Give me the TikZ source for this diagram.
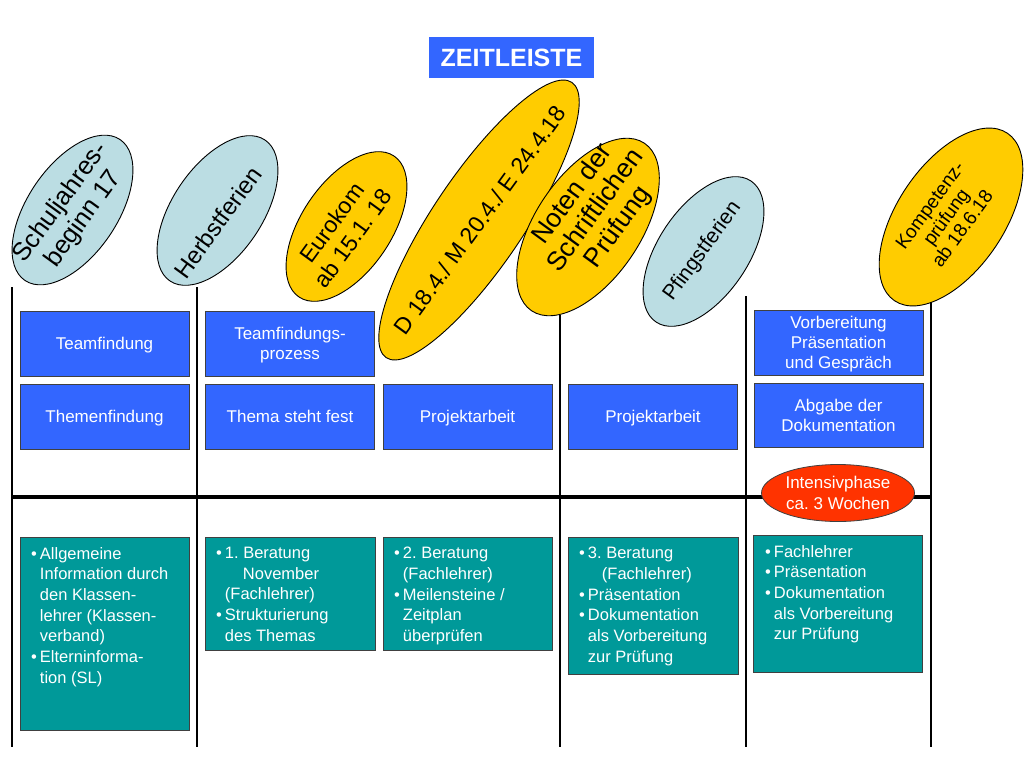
\documentclass[tikz,border=0pt]{standalone}
\usepackage{fontspec}
\setmainfont{Liberation Sans}
\usepackage{tikz}
\usetikzlibrary{shapes.geometric,positioning}
\definecolor{zblue}{HTML}{3366FF}
\definecolor{zteal}{HTML}{009999}
\definecolor{zgold}{HTML}{FFCC00}
\definecolor{zlight}{HTML}{BBDDE3}
\definecolor{zred}{HTML}{FF3300}
\newcommand{\bul}{\textbullet\hspace{3pt}}
\newcommand{\hng}{\hphantom{\textbullet\hspace{3pt}}}
\frenchspacing

\begin{document}
\begin{tikzpicture}
            [x=1pt,y=-1pt,
            every node/.style={inner sep=0pt,text=white},
            phase/.style={draw=black!75,line width=0.8pt,fill=zblue,align=center,text depth=0pt,
              minimum width=169pt,minimum height=65pt,font=\fontsize{17}{20}\selectfont},
            info/.style={draw=black!75,line width=0.8pt,fill=zteal,anchor=north west,minimum width=169pt},
            infotext/.style={align=left,font=\fontsize{16.5}{20.7}\selectfont},
            event/.style={ellipse,draw,line width=0.9pt,rotate=56},
            holiday/.style={event,fill=zlight,minimum width=170pt,minimum height=90pt},
            exam/.style={event,fill=zgold},
            eventtext/.style={rotate=54,align=center,text=black},
            bar/.style={line width=2pt}
            ]
            \fill[white] (0,0) rectangle (1024,768);
            \useasboundingbox (0,0) rectangle (1024,768);
            % time line
            \draw[bar] (12,287) -- (12,747);
            \draw[bar] (197,287) -- (197,747);
            \draw[bar] (560,315) -- (560,747);
            \draw[bar] (746,296) -- (746,747);
            \draw[bar] (931,300) -- (931,747);
            \draw[line width=4pt] (12,497) -- (931,497);

            \node[fill=zblue,minimum width=165pt,minimum height=41pt,
              font=\bfseries\fontsize{25}{30}\selectfont] (title) at (511.5,57.5) {ZEITLEISTE};

            % phases above the line
            \node[phase] (tf) at (104.5,343.5) {Teamfindung};
            \node[phase] (tfp) at (290,343.5) {Teamfindungs-\\prozess};
            \node[phase] (thf) at (104.5,416.5) {Themenfindung};
            \node[phase] (tsf) at (290,416.5) {Thema steht fest};
            \node[phase] (pa1) at (467.5,416.5) {Projektarbeit};
            \node[phase] (pa2) at (653,416.5) {Projektarbeit};
            \node[phase] (vpg) at (838.5,342.5) {Vorbereitung\\Präsentation\\und Gespräch};
            \node[phase,minimum height=64pt] (adk) at (838.5,415) {Abgabe der\\Dokumentation};

            % counselling below the line
            \node[info,minimum height=193pt] (b0) at (20,537) {};
            \node[info,minimum height=113pt,minimum width=170pt] (b1) at (205,537) {};
            \node[info,minimum height=113pt] (b2) at (383,537) {};
            \node[info,minimum height=137pt,minimum width=170pt] (b3) at (568,537) {};
            \node[info,minimum height=137pt] (b4) at (753,535) {};
            \node[infotext,below right=10pt and 11pt of b0.north west] (b0t)
              {\bul Allgemeine\\ \hng Information durch\\ \hng den Klassen-\\ \hng lehrer (Klassen-\\ \hng verband)\\ \bul Elterninforma-\\ \hng tion (SL)};
            \node[infotext,below right=10pt and 11pt of b1.north west] (b1t)
              {\bul 1. Beratung\\ \hng\hspace{18pt}November\\ \hng (Fachlehrer)\\ \bul Strukturierung\\ \hng des Themas};
            \node[infotext,below right=10pt and 11pt of b2.north west] (b2t)
              {\bul 2. Beratung\\ \hng (Fachlehrer)\\ \bul Meilensteine /\\ \hng Zeitplan\\ \hng überprüfen};
            \node[infotext,below right=10pt and 11pt of b3.north west] (b3t)
              {\bul 3. Beratung\\ \hng\hspace{14pt}(Fachlehrer)\\ \bul Präsentation\\ \bul Dokumentation\\ \hng als Vorbereitung\\ \hng zur Prüfung};
            \node[infotext,below right=10pt and 12pt of b4.north west] (b4t)
              {\bul Fachlehrer\\ \bul Präsentation\\ \bul Dokumentation\\ \hng als Vorbereitung\\ \hng zur Prüfung};

            \node[ellipse,draw=black!75,line width=0.8pt,fill=zred,minimum width=153pt,minimum height=57pt,
              inner sep=-20pt,align=center,font=\fontsize{17}{21}\selectfont] (ip) at (838,493) {Intensivphase\\ca. 3 Wochen};

            % dates
            \node[holiday] (sj) at (72.5,210) {};
            \node[eventtext,font=\fontsize{25.5}{28}\selectfont] (sjt) at ([shift={(0,1)}]sj.center) {Schuljahres-\\beginn 17};
            \node[holiday] (hf) at (217.5,210.5) {};
            \node[eventtext,font=\fontsize{24}{28}\selectfont] (hft) at ([shift={(0,12)}]hf.center) {Herbstferien};
            \node[exam,minimum width=170pt,minimum height=90pt] (ek) at (346.5,226.5) {};
            \node[eventtext,font=\fontsize{23}{26}\selectfont] (ekt) at ([shift={(-4,4)}]ek.center) {Eurokom\\ab 15.1. 18};
            \node[exam,minimum width=332pt,minimum height=91pt] (dme) at (479,220) {};
            \node[eventtext,font=\fontsize{23}{26}\selectfont] (dmet) at ([shift={(1,0)}]dme.center) {D 18.4./ M 20.4./ E 24.4.18};
            \node[exam,minimum width=202pt,minimum height=105pt] (nsp) at (588,227) {};
            \node[eventtext,font=\fontsize{26.5}{28}\selectfont] (nspt) at ([shift={(8,-16)}]nsp.center) {Noten der\\Schriftlichen\\Prüfung};
            \node[holiday] (pf) at (703.5,251.5) {};
            \node[eventtext,font=\fontsize{21}{24}\selectfont] (pft) at ([shift={(-1,0)}]pf.center) {Pfingstferien};
            \node[exam,minimum width=202pt,minimum height=107pt] (kp) at (951,217) {};
            \node[eventtext,font=\fontsize{19}{20}\selectfont] (kpt) at ([shift={(-5,0)}]kp.center) {Kompetenz-\\prüfung\\ab 18.6.18};
          \end{tikzpicture}
\end{document}
